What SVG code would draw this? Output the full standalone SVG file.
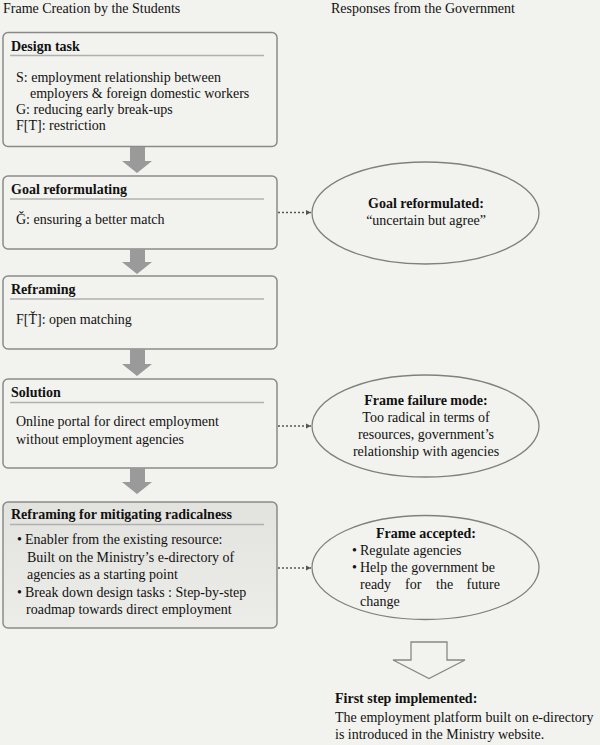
<svg xmlns="http://www.w3.org/2000/svg" width="600" height="745" viewBox="0 0 600 745">
<style>
text{font-family:"Liberation Serif","Times New Roman",serif;font-size:14px;fill:#111}
.b{font-weight:bold}
.m{text-anchor:middle}
.e{text-anchor:end}
.box{fill:#f2f2ee;stroke:#8a8a8a;stroke-width:1.5}
.sep{stroke:#b0b0b0;stroke-width:1.3}
.ell{fill:#f2f2ee;stroke:#808080;stroke-width:1.3}
.blk{fill:#9a9a9a}
.dot{stroke:#555;stroke-width:1.4;stroke-dasharray:2 2;fill:none}
</style>
<defs>
<marker id="ah" markerWidth="6" markerHeight="6" refX="5" refY="3" orient="auto" markerUnits="userSpaceOnUse">
<path d="M0,0.5 L5,3 L0,5.5 Z" fill="#555"/>
</marker>
<linearGradient id="g5" x1="0" y1="0" x2="0" y2="1">
<stop offset="0" stop-color="#e2e2de"/>
<stop offset="1" stop-color="#ececE8"/>
</linearGradient>
</defs>
<rect width="600" height="745" fill="#f2f2ee"/>
<text x="3" y="13">Frame Creation by the Students</text>
<text x="331" y="13">Responses from the Government</text>

<g id="design-task">
<rect class="box" x="3" y="32.5" width="274" height="114" rx="5"/>
<text class="b" x="11" y="51">Design task</text>
<line class="sep" x1="10" y1="55.5" x2="264" y2="55.5"/>
<text x="16" y="82">S: employment relationship between</text>
<text x="30" y="98">employers &amp; foreign domestic workers</text>
<text x="16" y="114">G: reducing early break-ups</text>
<text x="16" y="130">F[T]: restriction</text>
</g>

<g id="goal-reformulating">
<rect class="box" x="3" y="176" width="274" height="73" rx="5"/>
<text class="b" x="11" y="194">Goal reformulating</text>
<line class="sep" x1="10" y1="199" x2="264" y2="199"/>
<text x="16" y="224">Ǧ: ensuring a better match</text>
</g>

<g id="reframing">
<rect class="box" x="3" y="276" width="274" height="73" rx="5"/>
<text class="b" x="11" y="294">Reframing</text>
<line class="sep" x1="10" y1="299" x2="264" y2="299"/>
<text x="16" y="324">F[Ť]: open matching</text>
</g>

<g id="solution">
<rect class="box" x="3" y="379" width="274" height="89" rx="5"/>
<text class="b" x="11" y="397">Solution</text>
<line class="sep" x1="10" y1="402.5" x2="264" y2="402.5"/>
<text x="16" y="426">Online portal for direct employment</text>
<text x="16" y="444">without employment agencies</text>
</g>

<g id="reframing-mitigating">
<rect class="box" x="3" y="502" width="274" height="126" rx="5" style="fill:url(#g5)"/>
<text class="b" x="11" y="519">Reframing for mitigating radicalness</text>
<line class="sep" x1="10" y1="524.5" x2="264" y2="524.5"/>
<text x="17" y="544">•</text>
<text x="25" y="544">Enabler from the existing resource:</text>
<text x="27" y="562">Built on the Ministry’s e-directory of</text>
<text x="27" y="579">agencies as a starting point</text>
<text x="17" y="597">•</text>
<text x="25" y="597">Break down design tasks : Step-by-step</text>
<text x="26" y="614">roadmap towards direct employment</text>
</g>

<g id="goal-reformulated">
<ellipse class="ell" cx="425.5" cy="213" rx="113.5" ry="51"/>
<text class="b m" x="426" y="208">Goal reformulated:</text>
<text class="m" x="426" y="225">“uncertain but agree”</text>
</g>

<g id="frame-failure">
<ellipse class="ell" cx="425.5" cy="426" rx="113.5" ry="51"/>
<text class="b m" x="426" y="405">Frame failure mode:</text>
<text class="m" x="426" y="422">Too radical in terms of</text>
<text class="m" x="426" y="439">resources, government’s</text>
<text class="m" x="426" y="456">relationship with agencies</text>
</g>

<g id="frame-accepted">
<ellipse class="ell" cx="425.5" cy="567.5" rx="113.5" ry="52"/>
<text class="b m" x="426" y="538">Frame accepted:</text>
<text x="352" y="555">•</text>
<text x="360" y="555">Regulate agencies</text>
<text x="352" y="572">•</text>
<text x="360" y="572">Help the government be</text>
<text x="360" y="589">ready</text>
<text x="405" y="589">for</text>
<text x="436" y="589">the</text>
<text class="e" x="500" y="589">future</text>
<text x="360" y="606">change</text>
</g>

<g id="first-step">
<text class="b" x="335" y="703">First step implemented:</text>
<text x="335" y="722">The employment platform built on e-directory</text>
<text x="335" y="739">is introduced in the Ministry website.</text>
</g>

<g id="connectors">
<path class="blk" d="M130,147 H145 V161 H152 L137,173 L122,161 H130 Z"/>
<path class="blk" d="M130,249 H145 V262 H152 L137,274 L122,262 H130 Z"/>
<path class="blk" d="M130,349 H145 V364 H152 L137,376 L122,364 H130 Z"/>
<path class="blk" d="M130,468 H145 V482 H152 L137,494 L122,482 H130 Z"/>
<line class="dot" x1="278" y1="212.5" x2="311" y2="212.5" marker-end="url(#ah)"/>
<line class="dot" x1="278" y1="426" x2="311" y2="426" marker-end="url(#ah)"/>
<line class="dot" x1="278" y1="568" x2="311" y2="568" marker-end="url(#ah)"/>
<path d="M411,660 V642 H447 V660 H465 L429,678.5 L393,660 Z" fill="none" stroke="#888" stroke-width="1.3"/>
</g>
</svg>
